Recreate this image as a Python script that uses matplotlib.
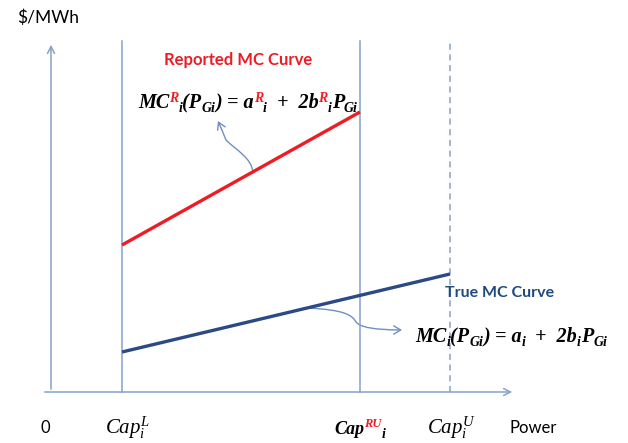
import matplotlib
matplotlib.use("Agg")
import matplotlib.pyplot as plt
from matplotlib.patches import FancyArrowPatch
from matplotlib.path import Path

plt.rcParams['mathtext.fontset'] = 'custom'
plt.rcParams['mathtext.it'] = 'Liberation Serif:italic'
plt.rcParams['mathtext.rm'] = 'Liberation Serif'
plt.rcParams['mathtext.bf'] = 'Liberation Serif:bold:italic'

# ---- schematic data (power units / $ per MWh units) ----
cap_names = ["Cap_L", "Cap_RU", "Cap_U"]
cap_power = [71, 309, 399]          # power positions of capacity limits
axis_power_max = 464                # end of power axis
axis_price_max = 350                # end of price axis
reported_power = [71, 309]          # reported MC curve endpoints (power)
reported_mc = [147, 280]            # reported MC values
true_power = [71, 399]              # true MC curve endpoints (power)
true_mc = [40, 118]                 # true MC values

W, H = 628, 443
fig = plt.figure(figsize=(W / 100, H / 100), dpi=100)
ax = fig.add_axes([0, 0, 1, 1])
ax.set_xlim(-51, W - 51)
ax.set_ylim(392 - H, 392)
ax.axis('off')

axc = '#85a2cc'
# axes with arrows
ax.annotate('', xy=(0, axis_price_max), xytext=(0, 0),
            arrowprops=dict(arrowstyle='->,head_length=0.5,head_width=0.25', color=axc, lw=1.1))
ax.annotate('', xy=(axis_power_max, 0), xytext=(-9, 0),
            arrowprops=dict(arrowstyle='->,head_length=0.5,head_width=0.25', color=axc, lw=1.1))

# capacity lines
ax.plot([cap_power[0]] * 2, [0, 351], color=axc, lw=1.1)
ax.plot([cap_power[1]] * 2, [0, 351], color=axc, lw=1.1)
ax.plot([cap_power[2]] * 2, [0, 351], color=axc, lw=1.1, ls=(0, (4, 3)))

# MC curves
ax.plot(reported_power, reported_mc, color='#ee1c24', lw=2.4, solid_capstyle='butt')
ax.plot(true_power, true_mc, color='#2b4a85', lw=2.4, solid_capstyle='butt')

# curved pointer arrows
arc = '#6f8fc4'
def px(x, y):
    return (x - 51, 392 - y)

codes = [Path.MOVETO, Path.CURVE4, Path.CURVE4, Path.CURVE4, Path.CURVE3, Path.CURVE3]
verts = [px(253, 173), px(252, 158), px(236, 150), px(226, 140), px(222, 130), px(218, 121)]
p1 = FancyArrowPatch(path=Path(verts, codes), arrowstyle='->,head_length=5,head_width=3',
                     color=arc, lw=1.0)
ax.add_patch(p1)
verts2 = [px(308, 308), px(345, 310), px(352, 315), px(356, 322), px(362, 330), px(402, 330)]
p2 = FancyArrowPatch(path=Path(verts2, codes), arrowstyle='->,head_length=5,head_width=3',
                     color=arc, lw=1.0)
ax.add_patch(p2)

# ---- text ----
sans = 'Lato'
fig.text(17 / W, 1 - 18 / H, '$/MWh', fontsize=12.5, family=sans, va='center', ha='left')
fig.text(238 / W, 1 - 60 / H, 'Reported MC Curve', fontsize=12, family=sans, weight='bold',
         color='#ee1c24', va='center', ha='center')
fig.text(500 / W, 1 - 293 / H, 'True MC Curve', fontsize=11.5, family=sans, weight='bold',
         color='#1f4a80', va='center', ha='center')
fig.text(45 / W, 1 - 428 / H, '0', fontsize=12, family=sans, va='center', ha='center')
fig.text(533 / W, 1 - 428 / H, 'Power', fontsize=12, family=sans, va='center', ha='center')

fig.text(128 / W, 1 - 428 / H, r'$Cap_i^L$', fontsize=15, va='center', ha='center')
fig.text(451 / W, 1 - 428 / H, r'$Cap_i^U$', fontsize=15, va='center', ha='center')

renderer = fig.canvas.get_renderer()

def seq(x0, base, pieces):
    x = x0
    for s, color, size, dy in pieces:
        t = fig.text(x / W, 1 - (base - dy) / H, s, fontsize=size, color=color,
                     family='Liberation Serif', style='italic', weight='bold',
                     va='baseline', ha='left')
        bb = t.get_window_extent(renderer)
        x = bb.x1

k, r = 'black', '#ee1c24'
big, sup, sub = 14.5, 10, 10
seq(138, 108, [('MC', k, big, 0), ('R', r, sup, 6), ('i', k, sub, -4), ('(P', k, big, 0),
               ('Gi', k, sub, -4), (')', k, big, 0), (' = a', k, big, 0), ('R', r, sup, 6),
               ('i', k, sub, -4), ('  +  2b', k, big, 0), ('R', r, sup, 6), ('i', k, sub, -4),
               ('P', k, big, 0), ('Gi', k, sub, -4)])
seq(415, 342, [('MC', k, big, 0), ('i', k, sub, -4), ('(P', k, big, 0), ('Gi', k, sub, -4),
               (')', k, big, 0), (' = a', k, big, 0), ('i', k, sub, -4), ('  +  2b', k, big, 0),
               ('i', k, sub, -4), ('P', k, big, 0), ('Gi', k, sub, -4)])
seq(334, 434, [('Cap', k, 13, 0), ('RU', r, 9, 7), ('i', k, 10, -4)])

fig.savefig('out.png', dpi=100)
